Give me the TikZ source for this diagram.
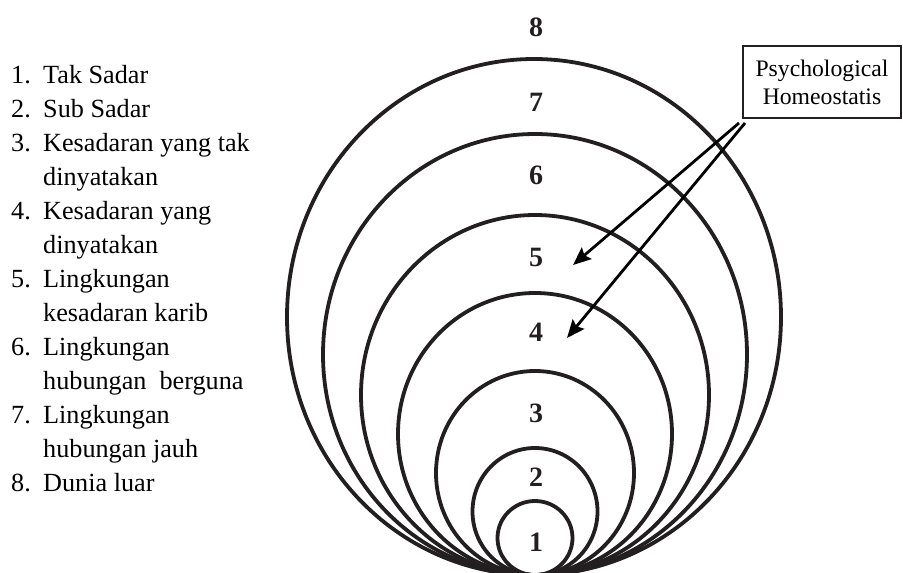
\documentclass[tikz,border=0pt]{standalone}
\usepackage{fontspec}
\setmainfont{Liberation Serif}
\newfontfamily\timesf{Liberation Serif}
\usetikzlibrary{arrows.meta}
\definecolor{ink}{RGB}{35,31,32}
\tikzset{
  ring/.style={draw=ink, line width=3.8pt},
  digit/.style={inner sep=0pt, text=ink, font=\fontsize{28}{28}\selectfont\bfseries},
  listtxt/.style={inner sep=0pt, anchor=base west, text=black, font=\fontsize{26.2}{34}\selectfont},
  hbox/.style={draw=ink, line width=1.6pt, align=center, inner sep=0pt,
    minimum width=158pt, minimum height=72pt, font=\timesf\fontsize{23.7}{28}\selectfont},
  pointer/.style={draw=black, line width=2.8pt, -{Stealth[length=18pt,width=15pt,inset=3pt]}}
}
\begin{document}
\begin{tikzpicture}[x=1pt,y=-1pt]
\useasboundingbox (0,0) rectangle (903,573);
\begin{scope}
\clip (0,0) rectangle (903,573);
\draw[ring] (535,538)   ellipse [x radius=37.5pt, y radius=37pt];
\draw[ring] (535,511.5) ellipse [x radius=62.5pt, y radius=63.5pt];
\draw[ring] (535,473)   ellipse [x radius=99pt,  y radius=102pt];
\draw[ring] (535,434)   ellipse [x radius=137pt, y radius=141pt];
\draw[ring] (535,395)   ellipse [x radius=174pt, y radius=180pt];
\draw[ring] (535,354.5) ellipse [x radius=212pt, y radius=220.5pt];
\draw[ring] (534,317)   ellipse [x radius=247pt, y radius=258pt];
\end{scope}
% ring numbers
\node[digit] (d8) at (536,27) {8};
\node[digit] (d7) at (536,102) {7};
\node[digit] (d6) at (536,175) {6};
\node[digit] (d5) at (536,257) {5};
\node[digit] (d4) at (536,332) {4};
\node[digit] (d3) at (536,413) {3};
\node[digit] (d2) at (536,477) {2};
\node[digit] (d1) at (536,542) {1};
% legend
\node[listtxt] (n1) at (11,83) {1.};
\node[listtxt] (t1) at (43,83) {Tak Sadar};
\node[listtxt] (n2) at (11,117) {2.};
\node[listtxt] (t2) at (43,117) {Sub Sadar};
\node[listtxt] (n3) at (11,151) {3.};
\node[listtxt] (t3a) at (43,151) {Kesadaran yang tak};
\node[listtxt] (t3b) at (43,185) {dinyatakan};
\node[listtxt] (n4) at (11,219) {4.};
\node[listtxt] (t4a) at (43,219) {Kesadaran yang};
\node[listtxt] (t4b) at (43,253) {dinyatakan};
\node[listtxt] (n5) at (11,287) {5.};
\node[listtxt] (t5a) at (43,287) {Lingkungan};
\node[listtxt] (t5b) at (43,321) {kesadaran karib};
\node[listtxt] (n6) at (11,355) {6.};
\node[listtxt] (t6a) at (43,355) {Lingkungan};
\node[listtxt] (t6b) at (43,389) {hubungan\ \ berguna};
\node[listtxt] (n7) at (11,423) {7.};
\node[listtxt] (t7a) at (43,423) {Lingkungan};
\node[listtxt] (t7b) at (43,457) {hubungan jauh};
\node[listtxt] (n8) at (11,491) {8.};
\node[listtxt] (t8) at (43,491) {Dunia luar};
% box and arrows
\node[hbox] (hb) at (822,82) {Psychological\\Homeostatis};
\coordinate (s5) at (739,123);
\coordinate (s4) at (745,123);
\coordinate (e5) at (573,265);
\coordinate (e4) at (567,338);
\draw[pointer] (s5) -- (e5);
\draw[pointer] (s4) -- (e4);
\end{tikzpicture}
\end{document}
